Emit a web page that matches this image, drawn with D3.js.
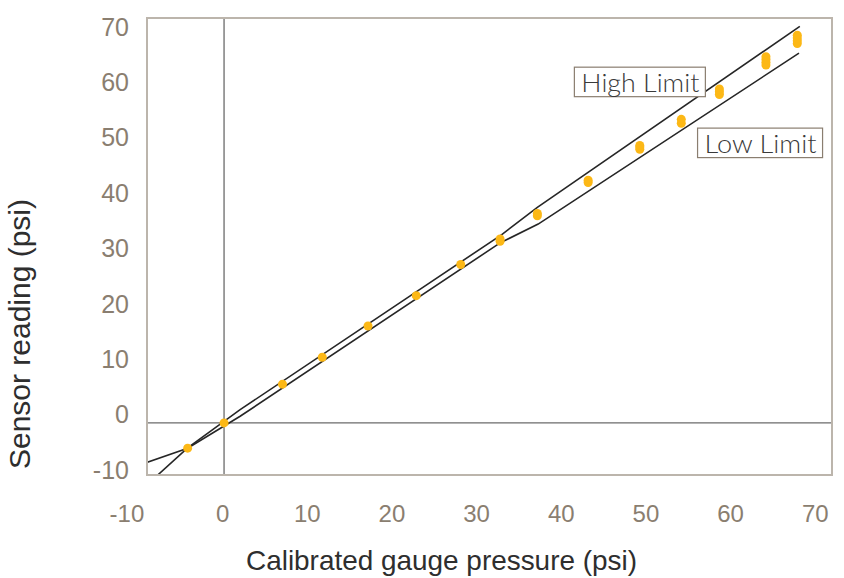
<!DOCTYPE html>
<html>
<head>
<meta charset="utf-8">
<script src="https://cdn.jsdelivr.net/npm/d3@7"></script>
<style>
  body { margin: 0; background: #fff; }
  svg { display: block; }
</style>
</head>
<body>
<div id="chart"></div>
<script>
(function() {

// tick labels
const xTicks = [-10, 0, 10, 20, 30, 40, 50, 60, 70];
const yTicks = [-10, 0, 10, 20, 30, 40, 50, 60, 70];

// calibrated gauge pressure for each test step, and the sensor readings taken there
const gauge = [-4.3, 0, 6.9, 11.6, 17.0, 22.7, 27.95, 32.6, 37.0, 43.0, 49.1, 54.0, 58.5, 64.0, 67.7];
const readings = [
    [-4.56], [0], [7.0], [11.85], [17.5], [22.97], [28.6],
    [32.8, 33.2], [37.4, 37.8], [43.4, 43.8], [49.4, 49.8, 50.1],
    [54.1, 54.8], [59.3, 59.8, 60.3], [64.6, 65.1, 65.6, 66.1], [68.5, 69.0, 69.5, 70.0]
];

// tolerance band
const highX = [-8.4, -4.3, 1.9, 32.8, 37.0, 68.0];
const highY = [-10.2, -4.5, 2.4, 34.0, 38.9, 71.6];
const lowX = [-9.6, -4.3, 1.9, 32.6, 37.1, 67.9];
const lowY = [-7.4, -4.56, 1.2, 32.5, 35.9, 66.75];

const width = 844,
    height = 578,
    margin = ({ top: 18, right: 12, bottom: 103, left: 147 });

let svg = d3.select("#chart")
    .append("svg")
    .attr("width", width)
    .attr("height", height)
    .attr("viewBox", [0, 0, width, height]);

let x = d3.scaleLinear()
    .domain([-9.1, 71.8])
    .range([margin.left, width - margin.right]);

let y = d3.scaleLinear()
    .domain([-9.4, 73.1])
    .range([height - margin.bottom, margin.top]);

const tickColor = "#8a7e70";

// x axis labels only (plain hyphen for negatives)
svg.append("g")
    .attr("transform", `translate(0,${height - margin.bottom})`)
    .call(d3.axisBottom(x).tickValues(xTicks).tickFormat(d => String(d)).tickSize(0).tickPadding(30))
    .call(g => g.select(".domain").remove())
    .call(g => g.selectAll("text")
        .attr("dx", d => d < 0 ? -13 : -2)
        .style("font-family", "'Liberation Sans', Arial, sans-serif")
        .style("font-size", "24px")
        .style("fill", tickColor));

// y axis labels, baseline sits on the value
svg.append("g")
    .attr("transform", `translate(${margin.left},0)`)
    .call(d3.axisLeft(y).tickValues(yTicks).tickFormat(d => String(d)).tickSize(0).tickPadding(18))
    .call(g => g.select(".domain").remove())
    .call(g => g.selectAll("text")
        .attr("dy", 0)
        .style("font-family", "'Liberation Sans', Arial, sans-serif")
        .style("font-size", "25px")
        .style("fill", tickColor));

svg.append("clipPath")
    .attr("id", "plot-clip")
    .append("rect")
    .attr("x", margin.left)
    .attr("y", margin.top)
    .attr("width", width - margin.left - margin.right)
    .attr("height", height - margin.top - margin.bottom);

// zero lines
svg.append("line")
    .attr("x1", x(0)).attr("x2", x(0))
    .attr("y1", margin.top).attr("y2", height - margin.bottom)
    .attr("stroke", "#6b6b6b")
    .attr("stroke-width", 1.3);

svg.append("line")
    .attr("x1", margin.left).attr("x2", width - margin.right)
    .attr("y1", y(0)).attr("y2", y(0))
    .attr("stroke", "#6b6b6b")
    .attr("stroke-width", 1.3);

// limit lines
let line = d3.line()
    .x(d => x(d[0]))
    .y(d => y(d[1]));

let limits = [d3.zip(highX, highY), d3.zip(lowX, lowY)];

svg.append("g")
    .attr("clip-path", "url(#plot-clip)")
    .selectAll("path")
    .data(limits)
    .join("path")
    .attr("d", line)
    .attr("fill", "none")
    .attr("stroke", "#262626")
    .attr("stroke-width", 1.6);

// readings
let points = [];
gauge.forEach((g, i) => readings[i].forEach(r => points.push([g, r])));

svg.append("g")
    .selectAll("circle")
    .data(points)
    .join("circle")
    .attr("cx", d => x(d[0]))
    .attr("cy", d => y(d[1]))
    .attr("r", 4.5)
    .attr("fill", "#fcb816");

// plot frame
svg.append("rect")
    .attr("x", margin.left)
    .attr("y", margin.top)
    .attr("width", width - margin.left - margin.right)
    .attr("height", height - margin.top - margin.bottom)
    .attr("fill", "none")
    .attr("stroke", "#bcb5ac")
    .attr("stroke-width", 2);

// boxed labels for the limit lines
const notes = [
    { text: "High Limit", px: 42.2, py: 59.8, len: 118 },
    { text: "Low Limit", px: 56.75, py: 48.8, len: 112 }
];

let note = svg.selectAll(".note")
    .data(notes)
    .join("g")
    .attr("class", "note");

note.append("rect")
    .attr("x", d => x(d.px) - 7)
    .attr("y", d => y(d.py) - 24.5)
    .attr("width", d => d.len + 13)
    .attr("height", 29.5)
    .attr("fill", "#fff")
    .attr("stroke", "#8a7e70")
    .attr("stroke-width", 1.2);

note.append("text")
    .text(d => d.text)
    .attr("x", d => x(d.px))
    .attr("y", d => y(d.py))
    .attr("textLength", d => d.len)
    .attr("lengthAdjust", "spacingAndGlyphs")
    .style("font-family", "Lato, sans-serif")
    .style("font-weight", 300)
    .style("font-size", "25px")
    .style("fill", "#3a3a3a");

// axis titles
svg.append("text")
    .attr("class", "x-label")
    .attr("text-anchor", "middle")
    .attr("x", 441.5)
    .attr("y", 570)
    .attr("textLength", 391)
    .attr("lengthAdjust", "spacingAndGlyphs")
    .style("font-family", "'Liberation Sans', Arial, sans-serif")
    .style("font-size", "28px")
    .style("fill", "#2e2e2e")
    .text("Calibrated gauge pressure (psi)");

svg.append("text")
    .attr("class", "y-label")
    .attr("text-anchor", "middle")
    .attr("transform", "translate(30,334) rotate(-90)")
    .attr("textLength", 270)
    .attr("lengthAdjust", "spacingAndGlyphs")
    .style("font-family", "'Liberation Sans', Arial, sans-serif")
    .style("font-size", "29px")
    .style("fill", "#2e2e2e")
    .text("Sensor reading (psi)");

})();
</script>
</body>
</html>
